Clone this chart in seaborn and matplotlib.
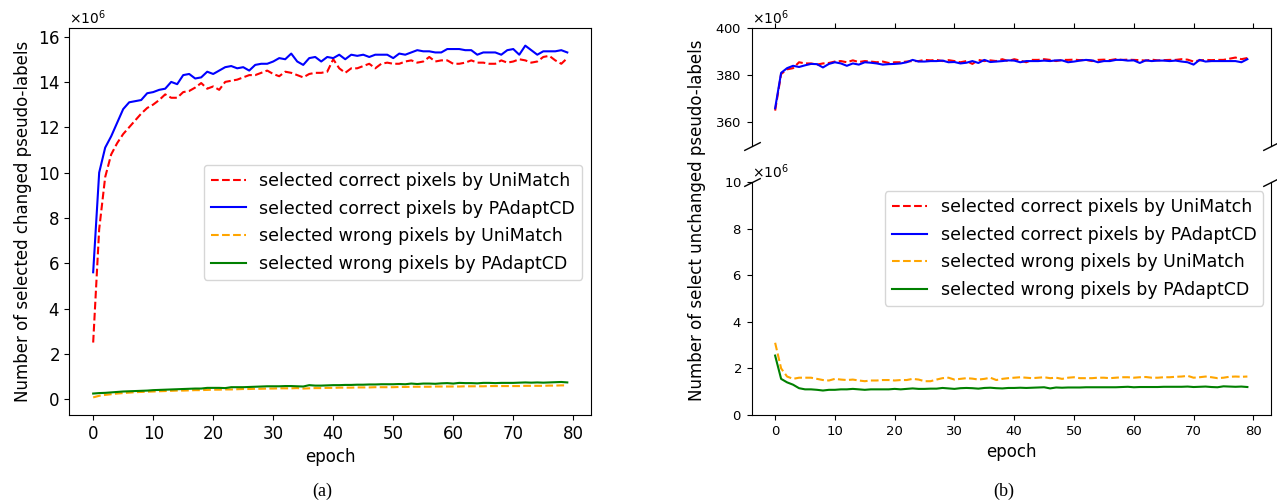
import numpy as np
import matplotlib
matplotlib.use("Agg")
import matplotlib.pyplot as plt
import seaborn as sns

SCALE = 1e6
EPOCHS = list(range(80))

# (a) changed pseudo-labels
changed_correct_unimatch = [
    2.5, 7.5, 9.8, 10.8, 11.3, 11.7, 12.0, 12.3, 12.6, 12.85,
    13.0, 13.2, 13.45, 13.3, 13.3, 13.55, 13.6, 13.75, 13.95, 13.7,
    13.8, 13.65, 14.0, 14.05, 14.1, 14.2, 14.3, 14.3, 14.4, 14.5,
    14.35, 14.25, 14.45, 14.4, 14.3, 14.2, 14.35, 14.4, 14.4, 14.45,
    15.0, 14.6, 14.4, 14.6, 14.6, 14.7, 14.8, 14.6, 14.8, 14.85,
    14.8, 14.8, 14.9, 14.95, 14.85, 14.9, 15.1, 14.9, 14.95, 14.95,
    14.8, 14.8, 14.85, 14.95, 14.85, 14.85, 14.8, 14.8, 14.95, 14.85,
    14.9, 15.0, 14.95, 14.85, 14.9, 15.1, 15.15, 14.95, 14.8, 15.05,
]
changed_correct_padapt = [
    5.6, 10.0, 11.1, 11.6, 12.2, 12.8, 13.1, 13.15, 13.2, 13.5,
    13.55, 13.65, 13.7, 14.0, 13.9, 14.3, 14.35, 14.15, 14.2, 14.45,
    14.35, 14.5, 14.65, 14.7, 14.6, 14.65, 14.5, 14.75, 14.8, 14.8,
    14.9, 15.05, 15.0, 15.25, 14.9, 14.75, 15.05, 15.1, 14.9, 15.1,
    15.05, 15.2, 15.0, 15.2, 15.15, 15.2, 15.1, 15.2, 15.2, 15.2,
    15.05, 15.25, 15.2, 15.3, 15.4, 15.35, 15.35, 15.3, 15.3, 15.45,
    15.45, 15.45, 15.4, 15.4, 15.2, 15.3, 15.3, 15.3, 15.2, 15.4,
    15.45, 15.2, 15.6, 15.4, 15.2, 15.35, 15.35, 15.35, 15.4, 15.3,
]
changed_wrong_unimatch = [
    0.08, 0.15, 0.19, 0.22, 0.25, 0.27, 0.29, 0.31, 0.32, 0.33,
    0.34, 0.35, 0.36, 0.37, 0.38, 0.38, 0.39, 0.40, 0.40, 0.41,
    0.42, 0.42, 0.43, 0.43, 0.44, 0.45, 0.45, 0.46, 0.46, 0.47,
    0.47, 0.48, 0.48, 0.48, 0.49, 0.47, 0.48, 0.49, 0.49, 0.50,
    0.50, 0.51, 0.51, 0.51, 0.52, 0.52, 0.52, 0.53, 0.53, 0.53,
    0.53, 0.54, 0.54, 0.55, 0.55, 0.55, 0.55, 0.56, 0.56, 0.56,
    0.56, 0.56, 0.57, 0.57, 0.57, 0.57, 0.58, 0.58, 0.58, 0.58,
    0.58, 0.58, 0.59, 0.59, 0.59, 0.59, 0.60, 0.60, 0.61, 0.61,
]
changed_wrong_padapt = [
    0.25, 0.27, 0.28, 0.30, 0.32, 0.34, 0.35, 0.36, 0.37, 0.38,
    0.40, 0.41, 0.42, 0.43, 0.44, 0.45, 0.46, 0.47, 0.47, 0.50,
    0.50, 0.50, 0.49, 0.53, 0.53, 0.53, 0.54, 0.55, 0.56, 0.57,
    0.57, 0.57, 0.58, 0.58, 0.57, 0.56, 0.62, 0.60, 0.60, 0.61,
    0.62, 0.62, 0.63, 0.63, 0.64, 0.64, 0.65, 0.65, 0.66, 0.66,
    0.66, 0.67, 0.66, 0.69, 0.67, 0.69, 0.69, 0.68, 0.70, 0.71,
    0.69, 0.72, 0.71, 0.71, 0.70, 0.72, 0.72, 0.71, 0.72, 0.72,
    0.72, 0.73, 0.74, 0.73, 0.74, 0.73, 0.74, 0.75, 0.76, 0.74,
]

# (b) unchanged pseudo-labels
unchanged_correct_unimatch = [
    365, 380.5, 382.5, 383, 385.5, 385, 385, 384.5, 385, 385.2,
    385.8, 386, 385.5, 386.3, 385.6, 386, 385.8, 385.5, 385.8, 385.2,
    385.5, 385.5, 385.8, 386, 386, 386.5, 386.3, 386.5, 386, 386.4,
    386, 385.5, 386, 384.8, 386.5, 386, 386.3, 386, 386.8, 386,
    386.8, 386.2, 385.5, 386.5, 386.5, 386.8, 386.5, 386, 386.5, 386.5,
    386.6, 386.4, 386.5, 386, 386.5, 386.6, 386.4, 386.8, 386.5, 386.6,
    386.5, 386.4, 386.2, 386.6, 386.3, 386.4, 386.5, 386.5, 386.8, 386.6,
    385.8, 386.3, 386.5, 386.4, 386.5, 386.5, 387, 387.5, 386.8, 387.3,
]
unchanged_correct_padapt = [
    366, 381, 383, 384, 383.5, 384.2, 384.8, 384.7, 383.3, 384.8,
    385.5, 385, 384, 385, 384.5, 385.5, 385.3, 385, 384.5, 384.7,
    384.8, 385, 385.5, 386.5, 385.8, 385.8, 386, 386, 386.2, 385.5,
    385.6, 385, 385.3, 386, 385.2, 386.5, 385.6, 385.8, 386, 386.3,
    386.2, 385.5, 386, 386, 386, 386.2, 386, 386.3, 386.3, 385.5,
    385.8, 386.2, 386.5, 386.3, 385.5, 386, 386, 386.5, 386.5, 386.2,
    386.3, 385.2, 386.3, 386, 386.2, 386.2, 386, 386.2, 385.8, 385.5,
    384.5, 386.5, 385.8, 386, 386, 386, 386, 386, 385.5, 386.8,
]
unchanged_wrong_unimatch = [
    3.1, 2.0, 1.65, 1.55, 1.6, 1.6, 1.6, 1.55, 1.5, 1.48,
    1.55, 1.52, 1.5, 1.52, 1.48, 1.45, 1.48, 1.48, 1.5, 1.5,
    1.48, 1.5, 1.5, 1.55, 1.52, 1.45, 1.45, 1.52, 1.58, 1.6,
    1.52, 1.55, 1.58, 1.56, 1.52, 1.55, 1.6, 1.5, 1.55, 1.58,
    1.6, 1.62, 1.6, 1.58, 1.6, 1.62, 1.58, 1.6, 1.55, 1.6,
    1.62, 1.58, 1.58, 1.58, 1.6, 1.6, 1.58, 1.6, 1.62, 1.62,
    1.6, 1.62, 1.63, 1.6, 1.6, 1.62, 1.62, 1.64, 1.65, 1.68,
    1.6, 1.62, 1.65, 1.62, 1.58, 1.6, 1.64, 1.65, 1.64, 1.65,
]
unchanged_wrong_padapt = [
    2.55, 1.55, 1.4, 1.3, 1.15, 1.1, 1.1, 1.08, 1.05, 1.08,
    1.08, 1.1, 1.1, 1.12, 1.1, 1.08, 1.1, 1.1, 1.1, 1.1,
    1.12, 1.1, 1.12, 1.14, 1.12, 1.12, 1.13, 1.13, 1.16, 1.14,
    1.12, 1.15, 1.16, 1.15, 1.13, 1.16, 1.17, 1.15, 1.14, 1.16,
    1.16, 1.17, 1.16, 1.17, 1.18, 1.19, 1.14, 1.18, 1.17, 1.18,
    1.18, 1.18, 1.19, 1.19, 1.19, 1.19, 1.19, 1.19, 1.2, 1.21,
    1.19, 1.2, 1.2, 1.2, 1.2, 1.21, 1.21, 1.21, 1.21, 1.22,
    1.2, 1.21, 1.22, 1.2, 1.19, 1.23, 1.22, 1.21, 1.22, 1.2,
]

LABELS = [
    "selected correct pixels by UniMatch",
    "selected correct pixels by PAdaptCD",
    "selected wrong pixels by UniMatch",
    "selected wrong pixels by PAdaptCD",
]
COLORS = ["red", "blue", "orange", "green"]
STYLES = ["--", "-", "--", "-"]


def draw(ax, series, labels=True):
    for i, ys in enumerate(series):
        if ys is None:
            continue
        sns.lineplot(x=EPOCHS, y=np.array(ys) * SCALE, ax=ax, color=COLORS[i],
                     linestyle=STYLES[i], linewidth=1.5,
                     label=LABELS[i] if labels else None, legend=labels)


def sci(ax, tick_size):
    ax.ticklabel_format(axis="y", style="sci", scilimits=(6, 6), useMathText=True)
    ax.tick_params(labelsize=tick_size)
    ax.yaxis.get_offset_text().set_fontsize(10)


fig = plt.figure(figsize=(12.77, 5.01), dpi=100)

# ---- (a)
ax_a = fig.add_axes([0.0544, 0.1717, 0.4084, 0.7723])
draw(ax_a, [changed_correct_unimatch, changed_correct_padapt,
            changed_wrong_unimatch, changed_wrong_padapt])
sci(ax_a, 12)
ax_a.set_xticks(range(0, 81, 10))
ax_a.set_xlabel("epoch", fontsize=12)
ax_a.set_ylabel("Number of selected changed pseudo-labels", fontsize=12)
ax_a.legend(loc="upper right", bbox_to_anchor=(0.983, 0.646), borderaxespad=0,
            fontsize=12.5, labelspacing=0.55)

# ---- (b) broken y axis
ax_top = fig.add_axes([0.5885, 0.7086, 0.4068, 0.2354])
ax_bot = fig.add_axes([0.5885, 0.1717, 0.4068, 0.4650], sharex=ax_top)
draw(ax_top, [unchanged_correct_unimatch, unchanged_correct_padapt, None, None], labels=False)
draw(ax_bot, [unchanged_correct_unimatch, unchanged_correct_padapt,
              unchanged_wrong_unimatch, unchanged_wrong_padapt])
ax_top.set_ylim(350e6, 400e6)
ax_top.set_yticks([360e6, 380e6, 400e6])
ax_bot.set_ylim(0, 10e6)
ax_bot.set_yticks(np.arange(0, 11, 2) * 1e6)
for ax in (ax_top, ax_bot):
    sci(ax, 9.5)
ax_bot.set_xticks(range(0, 81, 10))
ax_top.spines["bottom"].set_visible(False)
ax_bot.spines["top"].set_visible(False)
ax_top.xaxis.tick_top()
ax_top.tick_params(labeltop=False)
ax_bot.xaxis.tick_bottom()
ax_bot.set_xlabel("epoch", fontsize=12)
ax_top.set_ylabel("")
ax_bot.set_ylabel("")
fig.text(0.546, 0.56, "Number of select unchanged pseudo-labels", rotation=90,
         ha="center", va="center", fontsize=12)
ax_bot.legend(loc="upper right", bbox_to_anchor=(0.985, 0.961), borderaxespad=0,
              fontsize=12.5, labelspacing=0.55)

# break marks
d = 0.5
kw = dict(marker=[(-1, -d), (1, d)], markersize=12, linestyle="none",
          color="k", mec="k", mew=1, clip_on=False)
ax_top.plot([0, 1], [0, 0], transform=ax_top.transAxes, **kw)
ax_bot.plot([0, 1], [1, 1], transform=ax_bot.transAxes, **kw)

# captions
fig.text(0.252, 0.02, "(a)", ha="center", va="center", fontsize=13,
         family="Liberation Serif")
fig.text(0.786, 0.02, "(b)", ha="center", va="center", fontsize=13,
         family="Liberation Serif")

fig.savefig("out.png", dpi=100)
